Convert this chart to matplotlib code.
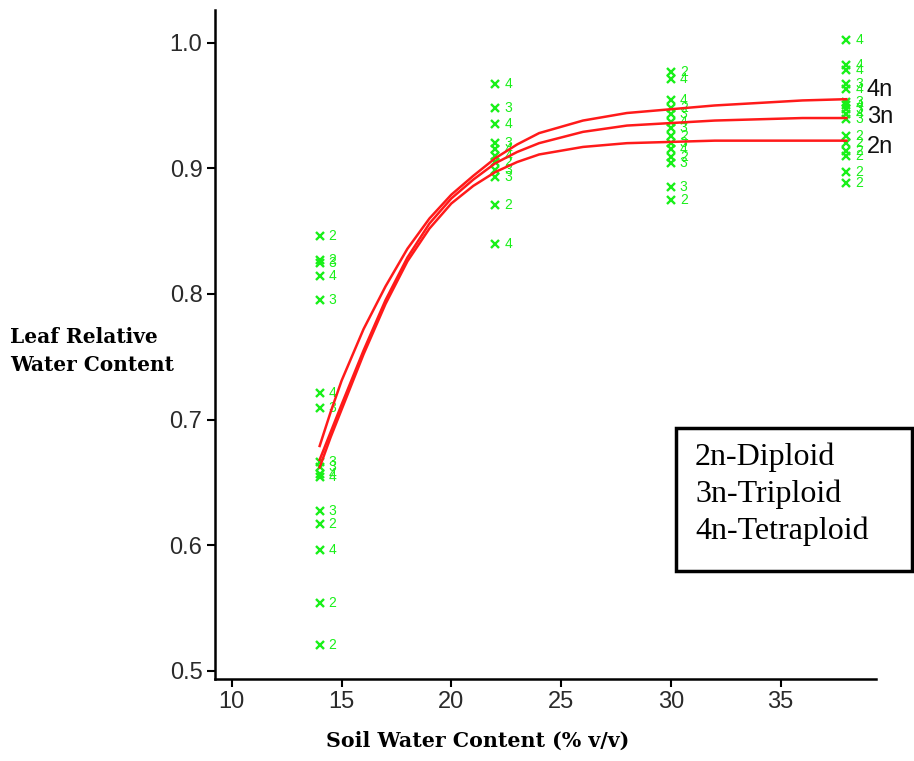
import matplotlib
matplotlib.use("Agg")
import matplotlib.pyplot as plt
from matplotlib.patches import Rectangle
from matplotlib.transforms import offset_copy

# измерения: влажность почвы, относительное содержание воды в листе, плоидность
swc = [14] * 16 + [22] * 11 + [30] * 14 + [38] * 16
rwc = [
    # 14 %
    0.846, 0.827, 0.825, 0.814, 0.795, 0.721, 0.709, 0.666, 0.662, 0.657,
    0.654, 0.627, 0.617, 0.596, 0.554, 0.521,
    # 22 %
    0.967, 0.948, 0.935, 0.920, 0.915, 0.910, 0.905, 0.899, 0.893, 0.871,
    0.840,
    # 30 %
    0.977, 0.971, 0.954, 0.948, 0.943, 0.937, 0.932, 0.926, 0.920, 0.915,
    0.909, 0.904, 0.885, 0.875,
    # 38 %
    1.002, 0.982, 0.978, 0.967, 0.963, 0.953, 0.950, 0.947, 0.943, 0.939,
    0.926, 0.920, 0.914, 0.910, 0.897, 0.888,
]
ploidy = [
    "2", "2", "3", "4", "3", "4", "3", "3", "3", "4", "4", "3", "2", "4", "2", "2",
    "4", "3", "4", "3", "4", "4", "2", "3", "3", "2", "4",
    "2", "4", "4", "2", "3", "4", "3", "2", "3", "4", "2", "3", "3", "2",
    "4", "4", "4", "3", "4", "3", "4", "3", "4", "3", "2", "2", "2", "2", "2", "2",
]

# подогнанные кривые
fit_x = [14, 14.5, 15, 16, 17, 18, 19, 20, 21, 22, 23, 24, 26, 28, 30, 32, 34, 36, 38]
fit_2n = [0.662, 0.686, 0.708, 0.752, 0.792, 0.826, 0.852, 0.872, 0.886, 0.897,
          0.905, 0.911, 0.917, 0.920, 0.921, 0.922, 0.922, 0.922, 0.922]
fit_3n = [0.668, 0.690, 0.712, 0.755, 0.795, 0.829, 0.856, 0.876, 0.891, 0.904,
          0.913, 0.920, 0.929, 0.934, 0.936, 0.938, 0.939, 0.940, 0.940]
fit_4n = [0.679, 0.706, 0.731, 0.772, 0.806, 0.836, 0.860, 0.879, 0.894, 0.908,
          0.919, 0.928, 0.938, 0.944, 0.947, 0.950, 0.952, 0.954, 0.955]
curve_labels = ["4n", "3n", "2n"]
curve_label_y = [0.962, 0.941, 0.917]
legend_lines = ["2n-Diploid", "3n-Triploid", "4n-Tetraploid"]

x_ticks = [10, 15, 20, 25, 30, 35]
y_ticks = [0.5, 0.6, 0.7, 0.8, 0.9, 1.0]

green = "#19f019"

fig = plt.figure(figsize=(9.14, 7.61), dpi=100)
ax = fig.add_axes([0.2352, 0.1078, 0.7232, 0.8791])

for fy in (fit_2n, fit_3n, fit_4n):
    ax.plot(fit_x, fy, color="#ff1a1a", lw=1.8, zorder=3)

ax.plot(swc, rwc, ls="none", marker="x", ms=5.5, mew=1.7, color=green, zorder=2)
digit_tr = offset_copy(ax.transData, fig=fig, x=9, y=0, units="dots")
for x, y, p in zip(swc, rwc, ploidy):
    ax.text(x, y, p, transform=digit_tr, color=green, fontsize=10,
            family="Liberation Sans", ha="left", va="center", zorder=2)

for lab, ly in zip(curve_labels, curve_label_y):
    ax.text(38.93, ly, lab, fontsize=17, family="Liberation Sans", color="#111111",
            ha="left", va="center", clip_on=False)

ax.set_xlim(9.23, 39.35)
ax.set_ylim(0.4936, 1.026)
ax.set_xticks(x_ticks)
ax.set_yticks(y_ticks)
ax.set_xticklabels([str(t) for t in x_ticks])
ax.set_yticklabels(["%.1f" % t for t in y_ticks])

for side in ("top", "right"):
    ax.spines[side].set_visible(False)
for side in ("left", "bottom"):
    ax.spines[side].set_linewidth(1.8)
ax.tick_params(axis="both", direction="out", length=6, width=1.5,
               labelsize=17, labelcolor="#2a2a2a", pad=3)
for lbl in ax.get_xticklabels() + ax.get_yticklabels():
    lbl.set_family("Liberation Sans")

# подписи осей
fig.text(10 / 914, 1 - 351 / 761, "Leaf Relative\nWater Content", fontsize=14.5,
         family="DejaVu Serif", weight="bold", ha="left", va="center",
         linespacing=1.45)
fig.text(478 / 914, 1 - 741 / 761, "Soil Water Content (% v/v)", fontsize=14.8,
         family="DejaVu Serif", weight="bold", ha="center", va="center")

# рамка с обозначениями
fig.patches.append(Rectangle((676 / 914, 1 - 571 / 761), 236 / 914, 143 / 761,
                             transform=fig.transFigure, fill=False,
                             edgecolor="black", lw=2.5))
for i, t in enumerate(legend_lines):
    fig.text(695 / 914, 1 - (465 + 37 * i) / 761, t, fontsize=23,
             family="Liberation Serif", ha="left", va="baseline")

fig.savefig("out.png", dpi=100, facecolor="white")
